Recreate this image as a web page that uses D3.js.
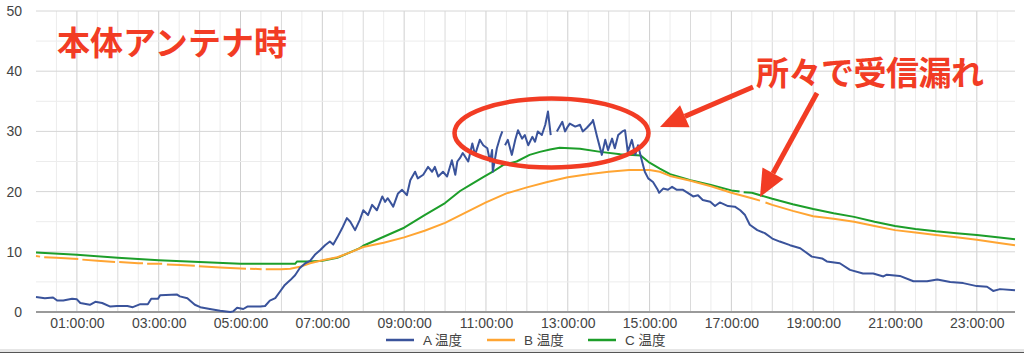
<!DOCTYPE html>
<html>
<head>
<meta charset="utf-8">
<script src="https://cdn.jsdelivr.net/npm/d3@7"></script>
<style>
  body { margin: 0; background: #fff; }
  svg { display: block; font-family: "Liberation Sans", Arial, "Noto Sans CJK JP", sans-serif; }
</style>
</head>
<body>
<div id="chart"></div>
<script>
// readings: [time, temperature], null = missed reception
var seriesA = [["00:00",2.5],["00:13",2.3],["00:25",2.4],["00:31",1.9],["00:40",1.9],["00:53",2.2],["01:00",2.1],["01:05",1.5],["01:19",1.2],["01:27",1.7],["01:37",1.5],["01:49",0.9],["01:59",1.0],["02:14",1.0],["02:22",0.8],["02:33",1.3],["02:44",1.3],["02:49",2.2],["02:59",2.2],["03:02",2.8],["03:27",2.9],["03:31",2.6],["03:42",2.3],["03:53",1.2],["04:01",0.8],["04:15",0.5],["04:30",0.2],["04:45",0.0],["04:49",0.1],["04:55",0.7],["05:04",0.5],["05:10",0.9],["05:29",0.9],["05:36",1.0],["05:43",1.9],["05:51",2.3],["05:58",3.4],["06:05",4.5],["06:13",5.3],["06:20",6.1],["06:27",7.3],["06:35",8.1],["06:42",8.5],["06:49",9.5],["06:57",10.3],["07:04",11.1],["07:11",11.7],["07:16",11.2],["07:22",12.4],["07:29",13.9],["07:36",15.6],["07:41",15.0],["07:48",13.6],["07:55",15.3],["08:00",16.9],["08:07",16.1],["08:13",17.8],["08:20",16.9],["08:28",19.2],["08:32",18.3],["08:36",18.9],["08:44",17.5],["08:51",19.7],["08:57",20.3],["09:04",19.4],["09:09",21.9],["09:16",23.3],["09:20",22.2],["09:28",22.8],["09:35",24.1],["09:41",23.3],["09:45",24.1],["09:50",22.5],["09:57",23.3],["10:03",22.5],["10:10",25.2],["10:15",22.8],["10:18",25.0],["10:22",25.6],["10:26",26.4],["10:34",25.0],["10:40",28.0],["10:44",26.1],["10:51",28.6],["10:56",27.7],["11:02",27.2],["11:06",25.0],["11:09",26.9],["11:10",23.3],["11:16",27.2],["11:21",29.1],["11:24",30.0],["11:26",null],["11:28",27.7],["11:32",28.6],["11:38",26.1],["11:43",28.6],["11:47",30.2],["11:53",28.8],["11:57",29.4],["12:02",27.7],["12:08",29.1],["12:12",28.3],["12:16",30.0],["12:22",29.4],["12:27",31.1],["12:31",33.3],["12:35",29.4],["12:39",null],["12:44",30.0],["12:52",31.6],["12:56",30.0],["13:00",30.8],["13:03",31.3],["13:11",30.8],["13:18",31.1],["13:22",30.0],["13:28",30.6],["13:36",31.6],["13:37",31.9],["13:43",29.1],["13:50",26.1],["13:55",28.6],["13:59",26.9],["14:05",28.8],["14:09",27.2],["14:14",29.4],["14:20",30.0],["14:24",30.2],["14:28",26.6],["14:34",28.6],["14:39",26.1],["14:43",27.7],["14:49",25.0],["14:53",23.3],["14:58",22.2],["15:05",21.6],["15:12",20.3],["15:14",19.8],["15:20",20.5],["15:27",20.3],["15:33",20.8],["15:40",20.3],["15:49",20.3],["15:56",19.8],["16:04",19.2],["16:11",19.4],["16:18",18.6],["16:29",18.3],["16:36",17.6],["16:43",18.2],["16:55",17.6],["17:05",17.5],["17:13",16.9],["17:20",16.1],["17:27",14.5],["17:38",13.6],["17:49",13.1],["18:00",12.2],["18:11",11.7],["18:26",11.1],["18:41",10.6],["18:58",9.2],["19:13",8.9],["19:20",8.4],["19:39",8.1],["19:54",7.0],["20:13",6.4],["20:28",6.4],["20:43",5.9],["20:48",6.2],["21:07",6.0],["21:27",5.1],["21:47",5.1],["22:02",5.4],["22:21",5.0],["22:40",4.8],["23:00",4.3],["23:15",4.2],["23:24",3.5],["23:34",3.8],["23:56",3.6]];

var seriesB = [["00:00",9.3],["00:06",9.2],["00:09",null],["00:12",9.1],["00:30",9.0],["01:02",8.8],["01:05",null],["01:08",8.7],["01:30",8.5],["01:56",8.3],["01:59",null],["02:02",8.3],["02:30",8.1],["02:37",8.1],["02:40",null],["02:43",8.0],["03:05",8.0],["03:09",null],["03:12",7.9],["03:32",7.8],["03:53",7.7],["03:56",null],["03:59",7.6],["04:30",7.4],["05:08",7.2],["05:11",null],["05:14",7.2],["05:31",7.1],["05:34",null],["05:37",7.1],["06:00",7.1],["06:13",7.2],["06:27",7.5],["06:42",8.1],["07:00",8.6],["07:22",9.1],["07:41",9.9],["08:00",10.8],["08:30",11.5],["09:00",12.4],["09:30",13.5],["10:00",14.8],["10:30",16.5],["11:00",18.2],["11:30",19.7],["12:00",20.7],["12:30",21.6],["13:00",22.4],["13:30",22.9],["14:00",23.3],["14:30",23.6],["15:00",23.6],["15:15",23.3],["15:30",22.6],["16:00",21.8],["16:30",20.9],["17:00",19.8],["17:30",18.9],["17:42",18.5],["17:46",null],["17:50",18.2],["18:00",17.8],["18:30",16.8],["19:00",15.9],["19:30",15.5],["20:00",15.0],["20:30",14.3],["21:00",13.6],["21:30",13.2],["22:00",12.8],["22:30",12.4],["23:00",12.0],["23:30",11.5],["23:56",11.1]];

var seriesC = [["00:00",9.9],["01:00",9.5],["02:00",9.0],["03:00",8.6],["04:00",8.3],["05:00",8.0],["06:00",8.0],["06:20",8.0],["06:23",8.4],["06:42",8.4],["07:00",8.5],["07:22",9.0],["07:55",10.6],["08:00",11.0],["08:30",12.5],["09:00",14.0],["09:30",16.1],["10:00",18.1],["10:22",20.1],["10:37",21.1],["10:56",22.4],["11:10",23.3],["11:25",24.4],["11:45",25.0],["12:04",26.1],["12:19",26.6],["12:34",27.0],["12:48",27.3],["13:18",27.1],["13:48",26.6],["14:17",26.2],["14:47",26.0],["15:00",24.8],["15:15",23.8],["15:30",22.9],["16:00",21.9],["16:30",21.1],["17:00",20.2],["17:12",20.0],["17:15",null],["17:18",19.9],["17:30",19.8],["18:00",18.8],["18:30",17.9],["19:00",17.1],["19:30",16.4],["20:00",15.8],["20:30",15.0],["21:00",14.3],["21:30",13.8],["22:00",13.4],["22:30",13.1],["23:00",12.8],["23:30",12.4],["23:56",12.1]];

var seriesNames = ["A 温度", "B 温度", "C 温度"];
var seriesColors = ["#3a539b", "#ffa533", "#1d9e2a"];
var xTicks = ["01:00:00","03:00:00","05:00:00","07:00:00","09:00:00","11:00:00","13:00:00","15:00:00","17:00:00","19:00:00","21:00:00","23:00:00"];
var yTicks = [0, 10, 20, 30, 40, 50];
var titleNote = "本体アンテナ時";
var lossNote = "所々で受信漏れ";

var width = 1024, height = 353;
var margin = {top: 11, right: 9, bottom: 41, left: 36};
var red = "#f23c24";

var parseHM = d3.timeParse("%H:%M"),
    parseHMS = d3.timeParse("%H:%M:%S");

var svg = d3.select("#chart")
  .append("svg")
    .attr("width", width)
    .attr("height", height);

var x = d3.scaleTime()
    .domain([parseHM("00:00"), parseHM("23:56")])
    .range([margin.left, width - margin.right]);

var y = d3.scaleLinear()
    .domain([0, 50])
    .range([height - margin.bottom, margin.top]);

// grid
var halfHours = d3.timeMinute.every(30).range(parseHM("00:30"), parseHM("23:31"));
svg.append("g").selectAll("line")
  .data(halfHours)
  .enter().append("line")
    .attr("x1", function(d) { return x(d); })
    .attr("x2", function(d) { return x(d); })
    .attr("y1", y(50))
    .attr("y2", y(0))
    .attr("stroke", function(d) {
      if (d.getMinutes() != 0) return "#ececec";
      return d.getHours() % 2 == 1 ? "#cfcfcf" : "#dadada";
    })
    .attr("stroke-width", 1);

var ySteps = d3.range(0, 51, 5);
svg.append("g").selectAll("line")
  .data(ySteps)
  .enter().append("line")
    .attr("x1", margin.left)
    .attr("x2", width - margin.right)
    .attr("y1", function(d) { return y(d); })
    .attr("y2", function(d) { return y(d); })
    .attr("stroke", function(d) { return d % 10 == 0 ? "#d6d6d6" : "#ececec"; })
    .attr("stroke-width", 1);

// axes
var yAxis = svg.append("g")
    .attr("transform", "translate(" + margin.left + ",0)")
    .call(d3.axisLeft(y).tickValues(yTicks).tickSize(0).tickPadding(14).tickFormat(d3.format("d")));
yAxis.select(".domain").remove();

var xAxis = svg.append("g")
    .attr("transform", "translate(0," + y(0) + ")")
    .call(d3.axisBottom(x).tickValues(xTicks.map(parseHMS)).tickSize(0).tickPadding(6)
      .tickFormat(d3.timeFormat("%H:%M:%S")));
xAxis.select(".domain").remove();

svg.selectAll(".tick text")
    .style("font-size", "14px")
    .style("fill", "#444")
    .style("font-family", "'Liberation Sans', Arial, sans-serif");

svg.append("line")
    .attr("x1", margin.left)
    .attr("x2", width - margin.right)
    .attr("y1", y(0))
    .attr("y2", y(0))
    .attr("stroke", "#9a9a9a")
    .attr("stroke-width", 2);

// lines
var line = d3.line()
    .defined(function(d) { return d[1] != null; })
    .x(function(d) { return x(parseHM(d[0])); })
    .y(function(d) { return y(d[1]); });

[seriesC, seriesB, seriesA].forEach(function(s, i) {
  svg.append("path")
      .datum(s)
      .attr("fill", "none")
      .attr("stroke", seriesColors[2 - i])
      .attr("stroke-width", 2)
      .attr("stroke-linejoin", "round")
      .attr("d", line);
});

// legend
var legendX = [386, 487, 588];
seriesNames.forEach(function(name, i) {
  svg.append("line")
      .attr("x1", legendX[i])
      .attr("x2", legendX[i] + 28)
      .attr("y1", 340)
      .attr("y2", 340)
      .attr("stroke", seriesColors[i])
      .attr("stroke-width", 2.5);
  svg.append("text")
      .attr("x", legendX[i] + 37)
      .attr("y", 340)
      .attr("dy", "0.36em")
      .style("font-size", "13.5px")
      .style("fill", "#444")
      .text(name);
});

// screenshot edge
svg.append("rect").attr("x", 0).attr("y", 349).attr("width", width).attr("height", 3).attr("fill", "#e6e6e6");
svg.append("rect").attr("x", 0).attr("y", 352).attr("width", width).attr("height", 1).attr("fill", "#555");

// annotations
var note = svg.append("g")
    .style("font-family", "'Noto Sans CJK JP', sans-serif")
    .style("font-weight", "bold")
    .style("font-size", "33px")
    .style("fill", red);

note.append("text")
    .attr("x", 57)
    .attr("y", 41)
    .attr("dominant-baseline", "central")
    .attr("textLength", 230)
    .text(titleNote);

note.append("text")
    .attr("x", 756)
    .attr("y", 71)
    .attr("dominant-baseline", "central")
    .attr("textLength", 228)
    .text(lossNote);

svg.append("ellipse")
    .attr("cx", 551.5)
    .attr("cy", 133)
    .attr("rx", 97)
    .attr("ry", 34.5)
    .attr("fill", "none")
    .attr("stroke", red)
    .attr("stroke-width", 4.5);

function arrow(x1, y1, x2, y2) {
  var ang = Math.atan2(y2 - y1, x2 - x1),
      len = 27, half = 12;
  var bx = x2 - len * Math.cos(ang), by = y2 - len * Math.sin(ang);
  svg.append("line")
      .attr("x1", x1).attr("y1", y1)
      .attr("x2", bx).attr("y2", by)
      .attr("stroke", red)
      .attr("stroke-width", 5);
  var px = -Math.sin(ang) * half, py = Math.cos(ang) * half;
  svg.append("path")
      .attr("d", "M" + x2 + "," + y2 + "L" + (bx + px) + "," + (by + py) + "L" + (bx - px) + "," + (by - py) + "Z")
      .attr("fill", red);
}
arrow(753, 87, 660, 127);
arrow(817, 93, 760, 197);
</script>
</body>
</html>
